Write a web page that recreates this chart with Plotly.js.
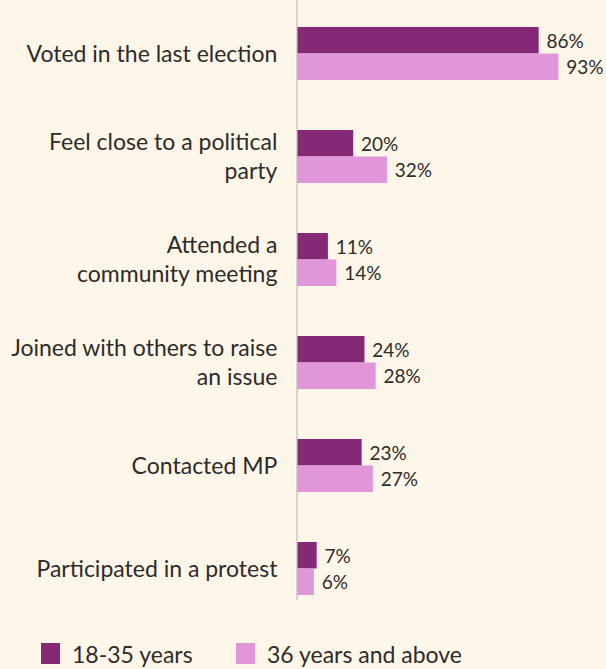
<!DOCTYPE html>
<html>
<head>
<meta charset="utf-8">
<script src="https://cdn.plot.ly/plotly-3.0.1.min.js"></script>
<style>
html, body { margin: 0; padding: 0; background: #fef6e8; }
#chart { width: 606px; height: 669px; }
</style>
</head>
<body>
<div id="chart"></div>
<script>
// categories, top to bottom
var categories = ["voted", "close", "meeting", "joined", "mp", "protest"];
var catLabels = [
  "Voted in the last election",
  "Feel close to a political<br>party",
  "Attended a<br>community meeting",
  "Joined with others to raise<br>an issue",
  "Contacted MP",
  "Participated in a protest"
];
var young = [86, 20, 11, 24, 23, 7];
var older = [93, 32, 14, 28, 27, 6];
var seriesNames = ["18-35 years", "36 years and above"];

var darkCol = "#852876";
var lightCol = "#e096d8";
var ink = "#2e2b2b";
var font = "Lato, 'Open Sans', sans-serif";

function pct(v) { return v.map(function (x) { return "\u00a0" + x + "%"; }); }

var trace1 = {
  type: "bar", orientation: "h",
  y: categories, x: young, name: seriesNames[0],
  marker: { color: darkCol },
  text: pct(young), textposition: "outside",
  textfont: { family: font, size: 19, color: ink },
  cliponaxis: false, constraintext: "none",
  hoverinfo: "skip", showlegend: false
};
var trace2 = {
  type: "bar", orientation: "h",
  y: categories, x: older, name: seriesNames[1],
  marker: { color: lightCol },
  text: pct(older), textposition: "outside",
  textfont: { family: font, size: 19, color: ink },
  cliponaxis: false, constraintext: "none",
  hoverinfo: "skip", showlegend: false
};

// plot area: x 297..578, y 2..620 (px)
function px(X) { return (X - 297) / 281; }
function py(Y) { return (620 - Y) / 618; }

var layout = {
  width: 606, height: 669,
  margin: { l: 297, r: 28, t: 2, b: 49 },
  paper_bgcolor: "#fef6e8",
  plot_bgcolor: "#fef6e8",
  barmode: "group",
  bargap: 0.485,
  bargroupgap: 0,
  font: { family: font, color: ink },
  xaxis: {
    range: [0, 100], visible: false, fixedrange: true
  },
  yaxis: {
    autorange: "reversed",
    tickmode: "array", tickvals: categories, ticktext: catLabels,
    tickfont: { family: font, size: 23, color: ink },
    ticks: "outside", ticklen: 14, tickcolor: "rgba(0,0,0,0)",
    showline: false, showgrid: false, zeroline: false, fixedrange: true
  },
  shapes: [
    { type: "line", xref: "paper", yref: "paper", x0: 0, x1: 0, y0: py(0), y1: py(600),
      line: { color: "#bdbdbd", width: 1.2 } },
    { type: "rect", xref: "paper", yref: "paper", x0: px(41), x1: px(60), y0: py(664), y1: py(643),
      fillcolor: darkCol, line: { width: 0 } },
    { type: "rect", xref: "paper", yref: "paper", x0: px(236), x1: px(255), y0: py(664), y1: py(643),
      fillcolor: lightCol, line: { width: 0 } }
  ],
  annotations: [
    { xref: "paper", yref: "paper", x: px(70), y: py(654), xanchor: "left", yanchor: "middle",
      text: seriesNames[0], showarrow: false, font: { family: font, size: 23, color: ink } },
    { xref: "paper", yref: "paper", x: px(265), y: py(654), xanchor: "left", yanchor: "middle",
      text: seriesNames[1], showarrow: false, font: { family: font, size: 23, color: ink } }
  ]
};

Plotly.newPlot("chart", [trace1, trace2], layout, { displayModeBar: false, staticPlot: true });
</script>
</body>
</html>
